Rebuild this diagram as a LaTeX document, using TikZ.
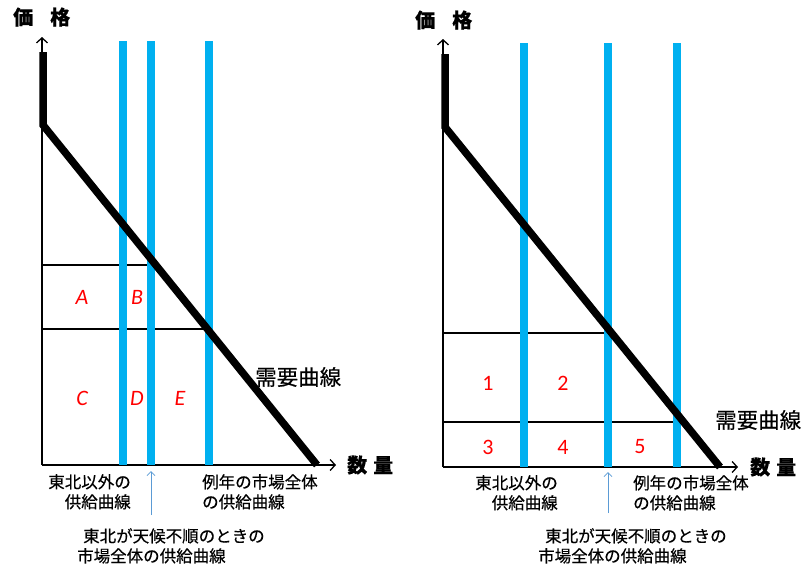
\documentclass[tikz,border=0pt]{standalone}
\usepackage{fontspec}
\setmainfont{Carlito}
\newfontfamily\jp[FakeBold=0.4]{Noto Sans CJK JP}
\usetikzlibrary{arrows.meta}
\definecolor{supplyc}{HTML}{00B0F0}
\definecolor{labc}{HTML}{FF0000}
\definecolor{ptrc}{HTML}{5B9BD5}
\begin{document}
\begin{tikzpicture}[x=1pt,y=-1pt,
  axis/.style={line width=1.3pt,-{Straight Barb[length=5pt,width=11pt,line width=1.3pt]}},
  demand/.style={line width=7.5pt,line join=miter},
  supply/.style={draw=supplyc,line width=8pt},
  level/.style={line width=2pt},
  ptr/.style={draw=ptrc,line width=0.8pt,-{Straight Barb[length=4pt,width=8pt]}},
  area/.style={text=labc,font=\itshape\fontsize{22}{22}\selectfont,inner sep=0pt},
  num/.style={text=labc,font=\fontsize{22}{22}\selectfont,inner sep=0pt},
  jl/.style={font=\jp\fontsize{16.5}{20}\selectfont,inner sep=0pt},
  big/.style={font=\jp\fontsize{21.5}{22}\selectfont,inner sep=0pt},
  ttl/.style={font=\jp\bfseries\fontsize{20}{20}\selectfont,inner sep=0pt}]
\useasboundingbox (0,0) rectangle (806,571);

% ---------------- left panel ----------------
\coordinate (O1) at (42,465);
\coordinate (Y1) at (42,37);
\coordinate (X1) at (336,465);
\draw[axis] (O1) -- (Y1);
\draw[axis] (O1) -- (X1);
\coordinate (D1a) at (43,52);
\coordinate (D1b) at (43,125);
\coordinate (D1c) at (317,465);
\coordinate (S1at) at (123,41); \coordinate (S1ab) at (123,465);
\coordinate (S1bt) at (151,41); \coordinate (S1bb) at (151,465);
\coordinate (S1ct) at (209,41); \coordinate (S1cb) at (209,465);
\coordinate (H1as) at (42,265); \coordinate (H1ae) at (152,265);
\coordinate (H1bs) at (42,329); \coordinate (H1be) at (209,329);
\draw[level] (H1as) -- (H1ae);
\draw[level] (H1bs) -- (H1be);
\draw[supply] (S1at) -- (S1ab);
\draw[supply] (S1bt) -- (S1bb);
\draw[supply] (S1ct) -- (S1cb);
\draw[demand] (D1a) -- (D1b) -- (D1c);
\node[area] (A) at (82,297) {A};
\node[area] (B) at (137,297) {B};
\node[area] (C) at (82,398) {C};
\node[area] (D) at (137,398) {D};
\node[area] (E) at (180,398) {E};
\node[ttl,anchor=west] (P1) at (13,17) {価\hspace{17pt}格};
\node[ttl,anchor=west] (Q1) at (347,465) {数\hspace{6pt}量};
\node[big,anchor=west] (DC1) at (255,377) {需要曲線};
\node[jl,anchor=north east,align=right] (L1a) at (131,474) {東北以外の\\供給曲線};
\node[jl,anchor=north west,align=left] (L1b) at (202,474) {例年の市場全体\\の供給曲線};
\coordinate (A1s) at (151,515);
\coordinate (A1e) at (151,471);
\draw[ptr] (A1s) -- (A1e);
\node[jl,anchor=north west,align=left] (L1c) at (77,528) {\hspace*{6pt}東北が天候不順のときの\\市場全体の供給曲線};

% ---------------- right panel ----------------
\coordinate (O2) at (443,467);
\coordinate (Y2) at (443,39);
\coordinate (X2) at (738,467);
\draw[axis] (O2) -- (Y2);
\draw[axis] (O2) -- (X2);
\coordinate (D2a) at (445,54);
\coordinate (D2b) at (445,127);
\coordinate (D2c) at (720,467);
\coordinate (S2at) at (524,43); \coordinate (S2ab) at (524,467);
\coordinate (S2bt) at (608,43); \coordinate (S2bb) at (608,467);
\coordinate (S2ct) at (677,43); \coordinate (S2cb) at (677,467);
\coordinate (H2as) at (443,333); \coordinate (H2ae) at (610,333);
\coordinate (H2bs) at (443,422); \coordinate (H2be) at (680,422);
\draw[level] (H2as) -- (H2ae);
\draw[level] (H2bs) -- (H2be);
\draw[supply] (S2at) -- (S2ab);
\draw[supply] (S2bt) -- (S2bb);
\draw[supply] (S2ct) -- (S2cb);
\draw[demand] (D2a) -- (D2b) -- (D2c);
\node[num] (N1) at (488,383) {1};
\node[num] (N2) at (563,383) {2};
\node[num] (N3) at (488,447) {3};
\node[num] (N4) at (563,447) {4};
\node[num] (N5) at (640,447) {5};
\node[ttl,anchor=west] (P2) at (415,20) {価\hspace{17pt}格};
\node[ttl,anchor=west] (Q2) at (750,467) {数\hspace{6pt}量};
\node[big,anchor=west] (DC2) at (715,420) {需要曲線};
\node[jl,anchor=north east,align=right] (L2a) at (558,475) {東北以外の\\供給曲線};
\node[jl,anchor=north west,align=left] (L2b) at (633,475) {例年の市場全体\\の供給曲線};
\coordinate (A2s) at (608,513);
\coordinate (A2e) at (608,472);
\draw[ptr] (A2s) -- (A2e);
\node[jl,anchor=north west,align=left] (L2c) at (538,528) {\hspace*{7pt}東北が天候不順のときの\\市場全体の供給曲線};
\end{tikzpicture}
\end{document}
